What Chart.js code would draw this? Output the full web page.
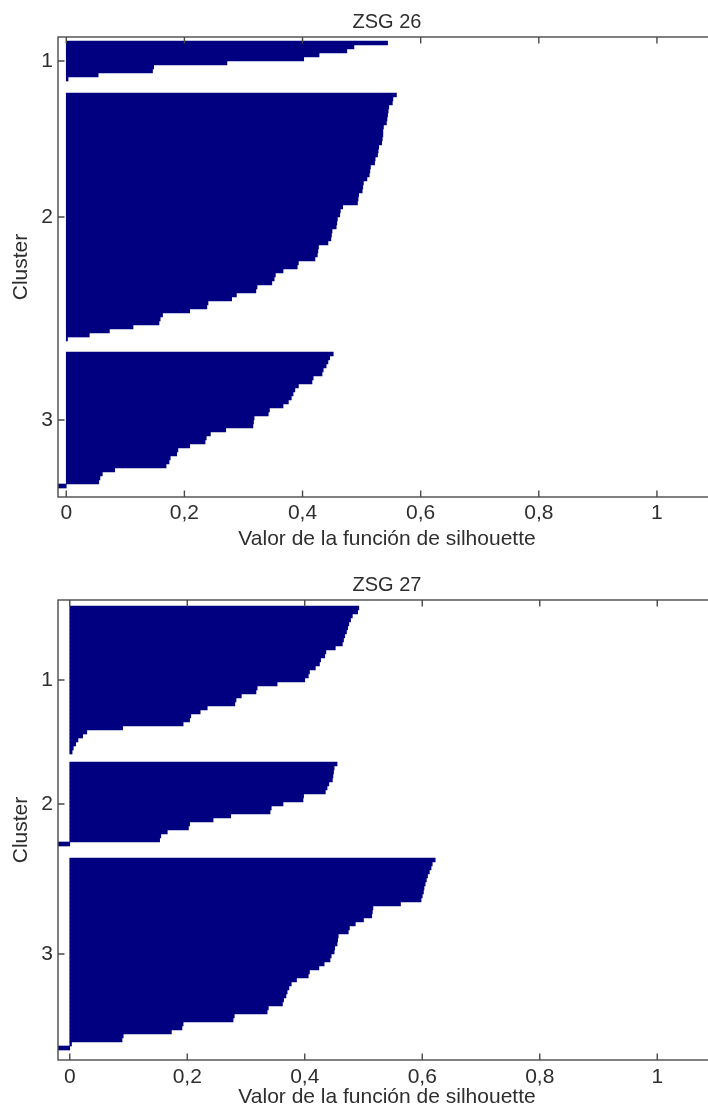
<!DOCTYPE html>
<html><head><meta charset="utf-8">
<script src="https://cdn.jsdelivr.net/npm/chart.js@4.4.1/dist/chart.umd.min.js"></script>
<style>
html,body{margin:0;padding:0;background:#fff;overflow:hidden;width:708px;height:1106px}
.wrap{position:absolute;left:0;width:720px;height:560px}
</style></head><body>
<div class="wrap" style="top:0"><canvas id="c1" width="720" height="560"></canvas></div>
<div class="wrap" style="top:560px"><canvas id="c2" width="720" height="560"></canvas></div>
<script>
// ---- data (silhouette values, sorted within each cluster) ----
const clusterLabels = ['1', '2', '3'];
const xTickValues = [0, 0.2, 0.4, 0.6, 0.8, 1];
const xAxisTitle = 'Valor de la función de silhouette';
const yAxisTitle = 'Cluster';

const zsg26Cluster1 = [0.544, 0.487, 0.475, 0.428, 0.402, 0.272, 0.148, 0.146, 0.054, 0.003];
const zsg26Cluster2 = [0.559, 0.553, 0.552, 0.546, 0.545, 0.544, 0.543, 0.542, 0.537, 0.536,
  0.536, 0.535, 0.534, 0.529, 0.528, 0.527, 0.523, 0.522, 0.515, 0.514,
  0.513, 0.509, 0.503, 0.502, 0.501, 0.495, 0.494, 0.493, 0.468, 0.464,
  0.463, 0.459, 0.458, 0.457, 0.450, 0.449, 0.448, 0.443, 0.427, 0.426,
  0.425, 0.421, 0.393, 0.391, 0.367, 0.354, 0.352, 0.348, 0.323, 0.321,
  0.288, 0.280, 0.240, 0.238, 0.209, 0.163, 0.159, 0.157, 0.113, 0.073,
  0.039, 0.002];
const zsg26Cluster3 = [0.452, 0.446, 0.443, 0.440, 0.435, 0.433, 0.418, 0.416, 0.393, 0.387,
  0.384, 0.381, 0.376, 0.367, 0.344, 0.342, 0.318, 0.317, 0.316, 0.270,
  0.244, 0.237, 0.235, 0.209, 0.189, 0.187, 0.176, 0.174, 0.169, 0.082,
  0.061, 0.057, 0.055, -0.014];

const zsg27Cluster1 = [0.492, 0.490, 0.481, 0.478, 0.475, 0.473, 0.471, 0.468, 0.466, 0.464,
  0.452, 0.436, 0.434, 0.427, 0.425, 0.418, 0.408, 0.406, 0.400, 0.353,
  0.319, 0.317, 0.292, 0.283, 0.281, 0.234, 0.222, 0.206, 0.204, 0.193,
  0.090, 0.029, 0.022, 0.014, 0.010, 0.006, 0.004];
const zsg27Cluster2 = [0.455, 0.450, 0.449, 0.448, 0.447, 0.441, 0.438, 0.435, 0.398, 0.397,
  0.363, 0.343, 0.341, 0.274, 0.244, 0.204, 0.202, 0.166, 0.155, 0.153,
  -0.020];
const zsg27Cluster3 = [0.622, 0.617, 0.615, 0.612, 0.609, 0.607, 0.605, 0.603, 0.602, 0.600,
  0.598, 0.563, 0.516, 0.515, 0.514, 0.500, 0.486, 0.476, 0.474, 0.457,
  0.456, 0.455, 0.451, 0.450, 0.445, 0.443, 0.433, 0.424, 0.408, 0.406,
  0.386, 0.377, 0.373, 0.370, 0.368, 0.364, 0.362, 0.338, 0.336, 0.280,
  0.278, 0.193, 0.191, 0.173, 0.091, 0.089, 0.003, -0.020];

// ---- layout / style (not data) ----
const FONT = "'Liberation Sans', Arial, Helvetica, sans-serif";
const TEXT = '#2e2e2e';
const BAR = '#000080';
const panels = [
  { id: 'c1', title: 'ZSG 26', clusters: [zsg26Cluster1, zsg26Cluster2, zsg26Cluster3],
    starts: [1, 14, 78.75], rows: 115, titlePad: {top: 10.5, bottom: 2.5},
    xTickPad: 3.2, xTitlePadBottom: 8.6, xAxisHeight: 63 },
  { id: 'c2', title: 'ZSG 27', clusters: [zsg27Cluster1, zsg27Cluster2, zsg27Cluster3],
    starts: [1.5, 40.5, 64.5], rows: 115, titlePad: {top: 13.8, bottom: 2.2},
    xTickPad: 4.6, xTitlePadBottom: 9.9, xAxisHeight: 60 }
];

const boxPlugin = {
  id: 'matlabBox',
  afterDatasetsDraw(chart) {
    const {ctx, chartArea: a, scales: {x, y}} = chart;
    const L = 6.5;
    ctx.save();
    ctx.strokeStyle = '#4a4a4a';
    ctx.lineWidth = 1.4;
    ctx.strokeRect(a.left, a.top, a.right - a.left, a.bottom - a.top);
    ctx.beginPath();
    x.ticks.forEach(t => {
      const px = x.getPixelForValue(t.value);
      ctx.moveTo(px, a.bottom); ctx.lineTo(px, a.bottom - L);
      ctx.moveTo(px, a.top); ctx.lineTo(px, a.top + L);
    });
    y.ticks.forEach(t => {
      const py = y.getPixelForValue(t.value);
      ctx.moveTo(a.left, py); ctx.lineTo(a.left + L, py);
      ctx.moveTo(a.right, py); ctx.lineTo(a.right - L, py);
    });
    ctx.stroke();
    ctx.restore();
  }
};

panels.forEach(p => {
  const allValues = p.clusters.flat();
  const xMin = Math.min(0, ...allValues);
  const centers = p.clusters.map((c, i) => p.starts[i] + c.length / 2);
  const datasets = p.clusters.map((c, i) => ({
    data: c.map((v, k) => ({x: v, y: p.starts[i] + k + 0.5})),
    backgroundColor: BAR,
    borderWidth: 0,
    barPercentage: 1,
    categoryPercentage: 1,
    grouped: false
  }));
  new Chart(document.getElementById(p.id), {
    type: 'bar',
    data: {datasets},
    plugins: [boxPlugin],
    options: {
      indexAxis: 'y',
      responsive: false,
      animation: false,
      devicePixelRatio: 1,
      layout: {padding: {left: 0, right: 4, top: 0, bottom: 0}},
      plugins: {
        legend: {display: false},
        tooltip: {enabled: false},
        title: {
          display: true, text: p.title, fullSize: false, color: TEXT,
          font: {family: FONT, size: 20, weight: 'normal'},
          padding: p.titlePad
        }
      },
      scales: {
        x: {
          type: 'linear', position: 'bottom', min: xMin, max: 1.1, offset: false,
          grid: {display: false, drawTicks: false},
          border: {display: false},
          afterBuildTicks: s => { s.ticks = xTickValues.map(v => ({value: v})); },
          afterFit: s => { s.height = p.xAxisHeight; },
          ticks: {
            color: TEXT, padding: p.xTickPad, maxRotation: 0,
            font: {family: FONT, size: 21},
            callback: v => String(v).replace('.', ',')
          },
          title: {
            display: true, text: xAxisTitle, color: TEXT,
            font: {family: FONT, size: 21},
            padding: {top: 0, bottom: p.xTitlePadBottom}
          }
        },
        y: {
          type: 'linear', reverse: true, min: 0, max: p.rows, offset: false,
          grid: {display: false, drawTicks: false},
          border: {display: false},
          afterBuildTicks: s => { s.ticks = centers.map(v => ({value: v})); },
          afterFit: s => { s.width = 58; },
          ticks: {
            color: TEXT, padding: 5,
            font: {family: FONT, size: 21},
            callback: (v, i) => clusterLabels[i]
          },
          title: {
            display: true, text: yAxisTitle, color: TEXT,
            font: {family: FONT, size: 21},
            padding: {top: 8.9, bottom: 0}
          }
        }
      }
    }
  });
});
</script>
</body></html>
